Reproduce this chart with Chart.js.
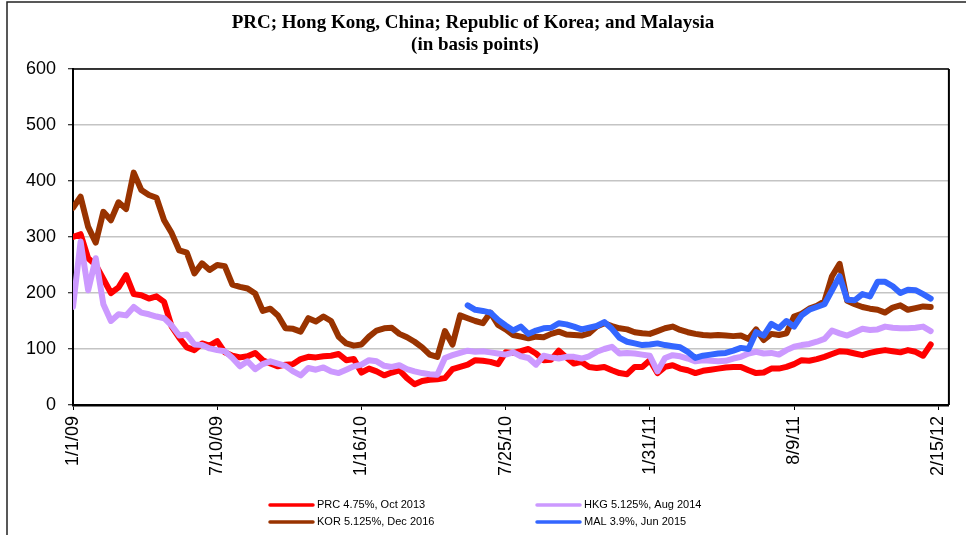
<!DOCTYPE html>
<html>
<head>
<meta charset="utf-8">
<title>Bond spreads</title>
<script src="https://cdn.jsdelivr.net/npm/chart.js@4.4.1/dist/chart.umd.min.js"></script>
<style>
  html, body { margin: 0; padding: 0; background: #fff; }
  #wrap { width: 966px; height: 535px; position: relative; }
</style>
</head>
<body>
<div id="wrap"><canvas id="spreads" width="966" height="535"></canvas></div>
<script>
  // spreads in basis points, one reading every STEP_DAYS days from 1 Jan 2009
  var STEP_DAYS = 10;

  var prcBp = [
    300, 305, 262, 250, 225, 200, 210, 232, 198, 196,
    190, 194, 184, 140, 120, 103, 98, 110, 106, 114,
    94, 88, 85, 87, 93, 80, 74, 69, 72, 73,
    82, 86, 85, 87, 88, 91, 80, 82, 58, 65,
    60, 53, 58, 62, 48, 37, 43, 45, 46, 48,
    64, 68, 72, 80, 79, 77, 73, 94, 93, 96,
    100, 92, 80, 81, 97, 85, 74, 77, 68, 66,
    68, 62, 57, 55, 68, 68, 80, 57, 68, 71,
    65, 62, 57, 61, 63, 65, 67, 68, 68, 62,
    57, 58, 65, 65, 68, 73, 80, 79, 82, 86,
    91, 96, 95, 92, 89, 93, 96, 98, 96, 94,
    98, 95, 88, 108
  ];

  var hkgBp = [
    175, 292, 205, 262, 180, 150, 162, 160, 175, 165,
    162, 158, 155, 142, 124, 126, 108, 107, 101, 98,
    96, 84, 69, 78, 64, 73, 78, 74, 70, 60,
    53, 66, 63, 67, 60, 57, 63, 69, 72, 80,
    78, 70, 68, 71, 64, 60, 57, 55, 54, 84,
    89, 93, 97, 95, 96, 94, 92, 90, 94, 87,
    84, 72, 88, 85, 83, 86, 86, 83, 87, 95,
    100, 104, 92, 93, 92, 90, 88, 60, 84, 89,
    87, 83, 78, 80, 79, 78, 79, 83, 86, 92,
    95, 92, 93, 90, 98, 104, 107, 109, 113, 118,
    133, 128, 124, 130, 136, 134, 135, 140, 138, 137,
    137, 138, 140, 132
  ];

  var korBp = [
    352, 372, 318, 290, 345, 330, 362, 350, 415, 384,
    375, 370, 330, 307, 276, 272, 235, 253, 241, 250,
    248, 215, 211, 208, 199, 168, 172, 160, 137, 136,
    131, 155, 149, 158, 150, 122, 110, 106, 108, 122,
    133, 137, 138, 127, 121, 113, 103, 90, 86, 132,
    108, 160, 155, 150, 146, 165, 143, 135, 125, 122,
    119, 122, 121, 127, 131, 126, 125, 124, 128, 140,
    146, 141, 137, 135, 130, 128, 127, 132, 137, 140,
    134, 130, 127, 125, 124, 125, 124, 123, 124, 118,
    135, 116, 127, 125, 128, 158, 163, 172, 177, 185,
    230, 252, 186, 180, 175, 172, 170, 165, 174, 178,
    170, 173, 176, 175
  ];

  // Malaysia bond only quoted from late May 2010
  var malFirstDay = 520;
  var malBp = [
    178, 170, 168, 165, 152, 142, 133, 140,
    127, 133, 137, 138, 146, 144, 140, 135, 138, 141,
    148, 136, 120, 113, 110, 107, 108, 110, 107, 105,
    103, 95, 84, 88, 90, 92, 93, 97, 102, 100,
    130, 124, 145, 137, 150, 140, 160, 170, 175, 180,
    205, 230, 188, 187, 198, 194, 220, 220, 212, 200,
    206, 205, 198, 190
  ];

  var xTickDays = [0, 190, 380, 570, 760, 950, 1140];
  var xTickLabels = ['1/1/09', '7/10/09', '1/16/10', '7/25/10', '1/31/11', '8/9/11', '2/15/12'];
  var yTicks = [0, 100, 200, 300, 400, 500, 600];

  var titleLines = ['PRC; Hong Kong, China; Republic of Korea; and Malaysia', '(in basis points)'];

  var SANS = '"Liberation Sans", Arial, sans-serif';
  var SERIF = '"Liberation Serif", "Times New Roman", serif';

  function toPoints(values, firstDay) {
    return values.map(function(v, i) {
      return { x: firstDay + i * STEP_DAYS, y: v };
    });
  }

  function series(label, values, firstDay, color, order) {
    return {
      label: label,
      data: toPoints(values, firstDay),
      borderColor: color,
      backgroundColor: color,
      borderWidth: 6,
      pointRadius: 0,
      tension: 0,
      borderJoinStyle: 'round',
      borderCapStyle: 'round',
      order: order
    };
  }

  // legend slots: two columns, two rows
  var legendSlots = [
    { x: 270, y: 505 },  // PRC
    { x: 537, y: 505 },  // HKG
    { x: 270, y: 522 },  // KOR
    { x: 537, y: 522 }   // MAL
  ];

  var decor = {
    id: 'decor',
    beforeDraw: function(chart) {
      var ctx = chart.ctx;
      ctx.save();
      ctx.fillStyle = '#fff';
      ctx.fillRect(0, 0, chart.width, chart.height);
      // outer frame (top and left edges)
      ctx.strokeStyle = '#222';
      ctx.lineWidth = 1.5;
      ctx.beginPath();
      ctx.moveTo(7, chart.height);
      ctx.lineTo(7, 2);
      ctx.lineTo(chart.width, 2);
      ctx.stroke();
      ctx.restore();
    },
    afterDraw: function(chart) {
      var ctx = chart.ctx;
      var a = chart.chartArea;
      ctx.save();

      // top and right edges of the plot box
      ctx.strokeStyle = '#000';
      ctx.lineWidth = 1.5;
      ctx.beginPath();
      ctx.moveTo(a.left, a.top);
      ctx.lineTo(a.right, a.top);
      ctx.stroke();
      ctx.lineWidth = 2;
      ctx.beginPath();
      ctx.moveTo(a.right, a.top);
      ctx.lineTo(a.right, a.bottom);
      ctx.stroke();

      // title
      ctx.fillStyle = '#000';
      ctx.textAlign = 'center';
      ctx.textBaseline = 'alphabetic';
      ctx.font = 'bold 19px ' + SERIF;
      ctx.fillText(titleLines[0], 473, 28);
      ctx.fillText(titleLines[1], 475, 50);

      // legend
      var order = ['PRC 4.75%, Oct 2013', 'HKG 5.125%, Aug 2014', 'KOR 5.125%, Dec 2016', 'MAL 3.9%, Jun 2015'];
      ctx.textAlign = 'left';
      ctx.textBaseline = 'middle';
      ctx.font = '11px ' + SANS;
      order.forEach(function(name, i) {
        var ds = chart.data.datasets.filter(function(d) { return d.label === name; })[0];
        var slot = legendSlots[i];
        ctx.strokeStyle = ds.borderColor;
        ctx.lineWidth = 3.5;
        ctx.lineCap = 'round';
        ctx.beginPath();
        ctx.moveTo(slot.x, slot.y);
        ctx.lineTo(slot.x + 43, slot.y);
        ctx.stroke();
        ctx.fillStyle = '#000';
        ctx.fillText(name, slot.x + 47, slot.y);
      });

      ctx.restore();
    }
  };

  new Chart(document.getElementById('spreads').getContext('2d'), {
    type: 'line',
    data: {
      datasets: [
        series('MAL 3.9%, Jun 2015', malBp, malFirstDay, '#3366FF', 0),
        series('KOR 5.125%, Dec 2016', korBp, 0, '#993300', 1),
        series('HKG 5.125%, Aug 2014', hkgBp, 0, '#CC99FF', 2),
        series('PRC 4.75%, Oct 2013', prcBp, 0, '#FF0000', 3)
      ]
    },
    options: {
      responsive: false,
      animation: false,
      events: [],
      layout: { padding: { top: 69, right: 10, left: 0, bottom: 0 } },
      plugins: {
        legend: { display: false },
        title: { display: false },
        tooltip: { enabled: false }
      },
      scales: {
        x: {
          type: 'linear',
          min: 0,
          max: 1154,
          afterFit: function(scale) { scale.height = 130; },
          afterBuildTicks: function(scale) {
            scale.ticks = xTickDays.map(function(d) { return { value: d }; });
          },
          grid: {
            drawOnChartArea: false,
            drawTicks: true,
            tickLength: 5,
            tickColor: '#000',
            tickWidth: 1
          },
          border: { color: '#000', width: 2.5 },
          ticks: {
            autoSkip: false,
            maxRotation: 90,
            minRotation: 90,
            padding: 6,
            color: '#000',
            font: { family: SANS, size: 18 },
            callback: function(value, index) { return xTickLabels[index]; }
          }
        },
        y: {
          min: 0,
          max: 600,
          afterFit: function(scale) { scale.width = 73; },
          afterBuildTicks: function(scale) {
            scale.ticks = yTicks.map(function(v) { return { value: v }; });
          },
          grid: {
            color: '#c4c4c4',
            lineWidth: 1.5,
            drawTicks: true,
            tickLength: 5,
            tickColor: '#000',
            tickWidth: 1
          },
          border: { color: '#000', width: 2 },
          ticks: {
            padding: 12,
            color: '#000',
            font: { family: SANS, size: 18 }
          }
        }
      }
    },
    plugins: [decor]
  });
</script>
</body>
</html>
